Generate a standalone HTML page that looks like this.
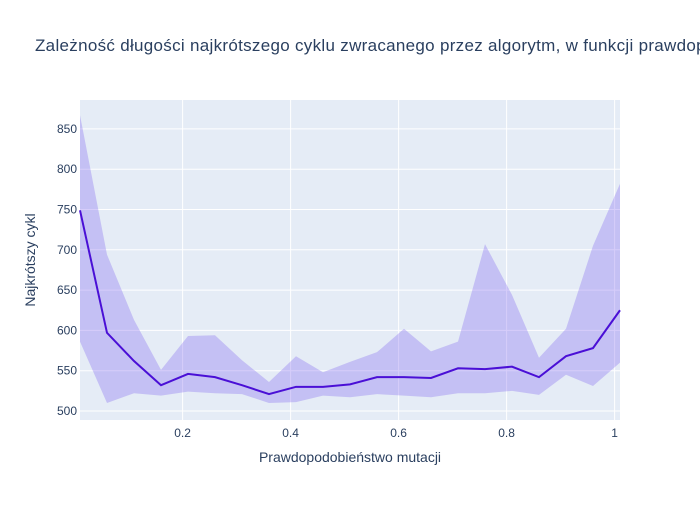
<!DOCTYPE html>
<html><head><meta charset="utf-8"><style>
body{margin:0;background:#fff;}
svg text{font-family:"Liberation Sans",sans-serif;}
</style></head><body>
<svg id="c" width="700" height="500" xmlns="http://www.w3.org/2000/svg">
<rect width="700" height="500" fill="#fff"/>
<text x="35" y="51" font-size="17" fill="#2a3f5f" letter-spacing="0.3">Zależność długości najkrótszego cyklu zwracanego przez algorytm,  w funkcji prawdopodobieństwa mutacji</text>
<rect x="80" y="100" width="540" height="320" fill="#e5ecf6"/>
<g id="grid"></g>
<g id="marks"></g>
<g id="ticks"></g>
<text x="350" y="462" font-size="14" fill="#2a3f5f" text-anchor="middle">Prawdopodobieństwo mutacji</text>
<text transform="translate(35,260) rotate(-90)" font-size="14" fill="#2a3f5f" text-anchor="middle">Najkrótszy cykl</text>
</svg>
<script>
const xs=[0.01,0.06,0.11,0.16,0.21,0.26,0.31,0.36,0.41,0.46,0.51,0.56,0.61,0.66,0.71,0.76,0.81,0.86,0.91,0.96,1.01];
const meanVals=[749,597,562,532,546,542,532,521,530,530,533,542,542,541,553,552,555,542,568,578,625];
const upperVals=[867,694,613,551,593,594,563,536,568,548,561,573,602,574,586,707,644,566,602,705,782];
const lowerVals=[586,510,522,519,524,522,521,510,511,519,517,521,519,517,522,522,525,520,545,531,560];
const xTicks=[0.2,0.4,0.6,0.8,1];
const xTickLabels=["0.2","0.4","0.6","0.8","1"];
const yTicks=[500,550,600,650,700,750,800,850];
const X=v=>80+(v-0.01)*540;
const Y=v=>411-(v-500)*0.806;
const NS="http://www.w3.org/2000/svg";
function mk(t,a,p){const e=document.createElementNS(NS,t);for(const k in a)e.setAttribute(k,a[k]);p.appendChild(e);return e;}
const grid=document.getElementById('grid'),ticks=document.getElementById('ticks'),marks=document.getElementById('marks');
yTicks.forEach(v=>{
 const l=mk('line',{x1:80,x2:620,y1:Y(v),y2:Y(v),stroke:'#fff','stroke-width':1},grid);
 
 
 const t=mk('text',{x:77,y:Y(v)+4,'font-size':12,fill:'#2a3f5f','text-anchor':'end'},ticks);
 t.textContent=v;
 
 
});
xTicks.forEach((v,i)=>{
 const l=mk('line',{x1:X(v),x2:X(v),y1:100,y2:420,stroke:'#fff','stroke-width':1},grid);
 
 
 const t=mk('text',{x:X(v),y:437,'font-size':12,fill:'#2a3f5f','text-anchor':'middle'},ticks);
 t.textContent=xTickLabels[i];
 
 
});
let d=xs.map((x,i)=>(i?'L':'M')+X(x)+','+Y(upperVals[i])).join('');
for(let i=xs.length-1;i>=0;i--)d+='L'+X(xs[i])+','+Y(lowerVals[i]);
const band=mk('path',{d:d+'Z',fill:'rgba(131,102,241,0.33)',stroke:'none'},marks);


const line=mk('path',{d:xs.map((x,i)=>(i?'L':'M')+X(x)+','+Y(meanVals[i])).join(''),fill:'none',stroke:'#4a0fd6','stroke-width':2},marks);


</script>
</body></html>
